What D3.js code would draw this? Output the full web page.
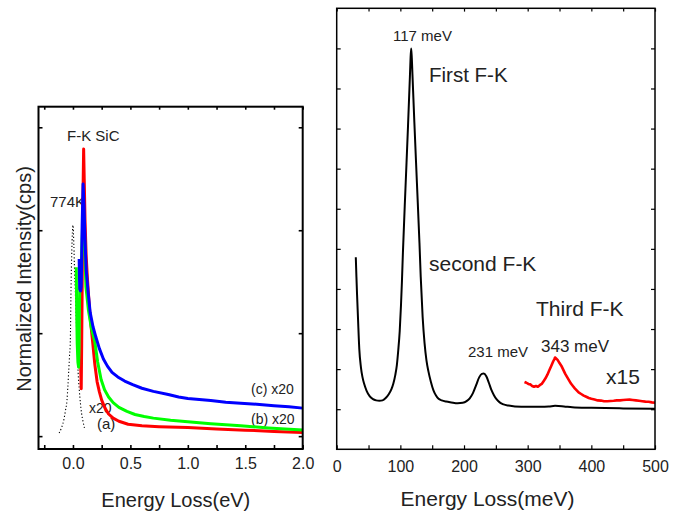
<!DOCTYPE html>
<html>
<head>
<meta charset="utf-8">
<script src="https://cdn.jsdelivr.net/npm/d3@7"></script>
<style>
  body { margin: 0; background: #fff; }
  svg { display: block; }
  text { font-family: "Liberation Sans", Arial, Helvetica, sans-serif; fill: #222; }
</style>
</head>
<body>
<svg id="chart" width="685" height="511"></svg>
<script>
// ---------- Left panel: F-K spectra of SiC (energy loss in eV) ----------
const leftXMajor = [0.0, 0.5, 1.0, 1.5, 2.0];
const leftXMinor = [-0.25, 0.25, 0.75, 1.25, 1.75];
const leftYTicks = [0, 1, 2, 3];

// elastic peak at 774K (dotted)
const elastic774K = [
  [-0.12, 0.03], [-0.1, 0.08], [-0.08, 0.155], [-0.065, 0.25], [-0.052, 0.35], [-0.045, 0.47],
  [-0.038, 0.61], [-0.03, 0.78], [-0.023, 0.93], [-0.017, 1.42], [-0.01, 1.8], [0.0, 2.05],
  [0.008, 1.85], [0.014, 1.6], [0.02, 1.42], [0.028, 1.15], [0.035, 0.93], [0.045, 0.62],
  [0.055, 0.45], [0.065, 0.32], [0.075, 0.22], [0.088, 0.14], [0.1, 0.08]
];
// (a) x20
const curveA = [
  [0.066, 0.75], [0.069, 0.6], [0.072, 0.46], [0.076, 0.9], [0.082, 1.7], [0.088, 2.4],
  [0.093, 2.79], [0.098, 2.5], [0.105, 2.1], [0.115, 1.75], [0.125, 1.55], [0.135, 1.38],
  [0.15, 1.15], [0.17, 0.93], [0.19, 0.7], [0.21, 0.53], [0.23, 0.43], [0.25, 0.35],
  [0.28, 0.27], [0.31, 0.215], [0.35, 0.175], [0.4, 0.145], [0.48, 0.115], [0.6, 0.1],
  [0.75, 0.092], [1.0, 0.083], [1.25, 0.07], [1.5, 0.058], [1.75, 0.046], [2.0, 0.035]
];
// (b) x20
const curveB = [
  [0.029, 1.64], [0.032, 1.25], [0.037, 0.9], [0.043, 0.72], [0.049, 0.67], [0.053, 0.85],
  [0.056, 1.2], [0.059, 1.45], [0.068, 1.5], [0.078, 1.85], [0.088, 2.18], [0.094, 2.12],
  [0.1, 1.98], [0.106, 1.7], [0.113, 1.45], [0.135, 1.22], [0.16, 1.05], [0.19, 0.92],
  [0.215, 0.72], [0.245, 0.55], [0.275, 0.45], [0.31, 0.38], [0.35, 0.325], [0.4, 0.28],
  [0.47, 0.24], [0.54, 0.21], [0.62, 0.19], [0.7, 0.175], [0.85, 0.155], [1.0, 0.14],
  [1.2, 0.12], [1.46, 0.1], [1.7, 0.08], [2.0, 0.06]
];
// (c) x20
const curveC = [
  [0.054, 1.72], [0.057, 1.52], [0.059, 1.43], [0.066, 1.41], [0.072, 1.45], [0.08, 2.05],
  [0.088, 2.45], [0.096, 2.25], [0.105, 1.9], [0.115, 1.62], [0.13, 1.42], [0.15, 1.2],
  [0.175, 1.06], [0.2, 0.96], [0.23, 0.85], [0.265, 0.75], [0.3, 0.68], [0.34, 0.62],
  [0.39, 0.575], [0.45, 0.535], [0.52, 0.5], [0.6, 0.465], [0.7, 0.435], [0.83, 0.405],
  [0.92, 0.38], [1.0, 0.365], [1.1, 0.355], [1.2, 0.345], [1.33, 0.33], [1.46, 0.32],
  [1.6, 0.31], [1.75, 0.295], [1.88, 0.285], [2.0, 0.272]
];

// ---------- Right panel: F-K series (energy loss in meV) ----------
const rightXMajor = [0, 100, 200, 300, 400, 500];
const rightXMinor = [50, 150, 250, 350, 450];
const rightYTicks = [0, 1, 2, 3, 4, 5, 6, 7, 8, 9];

const fkSpectrum = [
  [30, 3.79], [31, 3.3], [32, 2.85], [33.5, 2.25], [35.5, 1.5], [38, 1.05], [40.5, 0.8],
  [43, 0.64], [47, 0.46], [52, 0.32], [57, 0.25], [62, 0.22], [67, 0.21], [72, 0.22],
  [77, 0.28], [82, 0.38], [86, 0.5], [89, 0.64], [92, 0.85], [94.5, 1.1], [96.7, 1.47],
  [99, 1.95], [101, 2.6], [102.5, 3.2], [104, 3.9], [108, 5.5], [112, 7.05], [115, 8.3],
  [116, 8.75], [117, 9.0], [118, 8.75], [119, 8.35], [122, 7.15], [126, 5.65], [130, 4.15],
  [132, 3.3], [135, 2.3], [138, 1.65], [141, 1.22], [144, 0.95], [148, 0.68], [152, 0.47],
  [156, 0.34], [160, 0.26], [165, 0.22], [172, 0.19], [180, 0.17], [190, 0.15], [198, 0.16],
  [204, 0.2], [209, 0.27], [214, 0.4], [219, 0.6], [224, 0.8], [228, 0.88], [231, 0.89],
  [235, 0.82], [239, 0.66], [243, 0.48], [247, 0.35], [251, 0.25], [256, 0.17], [262, 0.12],
  [270, 0.09], [280, 0.07], [300, 0.06], [320, 0.06], [333, 0.065], [343, 0.085], [357, 0.07],
  [370, 0.05], [400, 0.035], [450, 0.02], [500, 0.01]
];
// third-order region magnified x15
const fkThirdX15 = [
  [295, 0.68], [298, 0.66], [301, 0.63], [304, 0.62], [307, 0.58], [310, 0.56], [313, 0.58],
  [316, 0.56], [319, 0.6], [322, 0.63], [325, 0.7], [328, 0.77], [331, 0.86], [334, 0.97],
  [337, 1.08], [340, 1.19], [342, 1.25], [343, 1.29], [345, 1.26], [347, 1.23], [350, 1.15],
  [353, 1.08], [356, 0.98], [359, 0.88], [362, 0.8], [365, 0.72], [368, 0.64], [371, 0.58],
  [374, 0.52], [377, 0.47], [380, 0.42], [384, 0.38], [388, 0.34], [392, 0.31], [396, 0.28],
  [400, 0.26], [405, 0.24], [410, 0.22], [415, 0.215], [420, 0.2], [425, 0.2], [430, 0.205],
  [435, 0.21], [440, 0.22], [445, 0.22], [450, 0.23], [455, 0.235], [460, 0.24], [465, 0.23],
  [470, 0.22], [475, 0.21], [480, 0.2], [485, 0.19], [490, 0.185], [495, 0.17], [500, 0.16]
];

const svg = d3.select("#chart");

// ---------- scales ----------
const xL = d3.scaleLinear().domain([-0.3, 2.0]).range([38.5, 302.7]);
const yL = d3.scaleLinear().domain([-0.125, 3.2]).range([449, 106.7]);
const xR = d3.scaleLinear().domain([0, 500]).range([336.7, 655]);
const yR = d3.scaleLinear().domain([-1, 10]).range([449.3, 8.3]);

function styleAxis(g, fontSize, strokeW) {
  g.select(".domain").remove();
  g.selectAll("line").attr("stroke", "#000").attr("stroke-width", strokeW);
  g.selectAll("text").attr("font-size", fontSize)
    .attr("font-family", '"Liberation Sans", Arial, Helvetica, sans-serif')
    .attr("fill", "#222");
}

function drawAxes(x, y, opts) {
  const [x0, x1] = x.range();
  const [yb, yt] = y.range();
  // bottom: labelled majors + minors
  svg.append("g").attr("transform", `translate(0,${yb})`)
    .call(d3.axisBottom(x).tickValues(opts.xMajor).tickSizeInner(-opts.tick).tickSizeOuter(0)
      .tickPadding(opts.pad).tickFormat(opts.fmt))
    .call(g => styleAxis(g, opts.fs, opts.sw));
  svg.append("g").attr("transform", `translate(0,${yb})`)
    .call(d3.axisBottom(x).tickValues(opts.xMinor).tickSizeInner(-opts.tick).tickSizeOuter(0).tickFormat(""))
    .call(g => styleAxis(g, opts.fs, opts.sw));
  // top mirror
  svg.append("g").attr("transform", `translate(0,${yt})`)
    .call(d3.axisTop(x).tickValues(opts.xMajor.concat(opts.xMinor)).tickSizeInner(-opts.tickTop).tickSizeOuter(0).tickFormat(""))
    .call(g => styleAxis(g, opts.fs, opts.sw));
  // left and right, unlabelled
  svg.append("g").attr("transform", `translate(${x0},0)`)
    .call(d3.axisLeft(y).tickValues(opts.yTicks).tickSizeInner(-opts.tick).tickSizeOuter(0).tickFormat(""))
    .call(g => styleAxis(g, opts.fs, opts.sw));
  svg.append("g").attr("transform", `translate(${x1},0)`)
    .call(d3.axisRight(y).tickValues(opts.yTicks).tickSizeInner(-opts.tick).tickSizeOuter(0).tickFormat(""))
    .call(g => styleAxis(g, opts.fs, opts.sw));
}

function frame(x, y, sw) {
  const [x0, x1] = x.range();
  const [yb, yt] = y.range();
  svg.append("rect").attr("x", x0).attr("y", yt).attr("width", x1 - x0).attr("height", yb - yt)
    .attr("fill", "none").attr("stroke", "#000").attr("stroke-width", sw);
}

function label(txt, x, y, size, anchor) {
  svg.append("text").attr("x", x).attr("y", y).attr("font-size", size)
    .attr("text-anchor", anchor || "start").text(txt);
}

// ---------- left panel ----------
drawAxes(xL, yL, {
  xMajor: leftXMajor, xMinor: leftXMinor, yTicks: leftYTicks,
  tick: 4, tickTop: 3, pad: 8.6, fs: 16, sw: 1.6, fmt: d3.format(".1f")
});

label("F-K SiC", 67, 140.7, 15);
label("774K", 50, 206.7, 15);
label("(c) x20", 251, 394, 14);
label("(b) x20", 251, 424, 14);
label("x20", 89, 412.7, 14);
label("(a)", 97, 428.5, 15);

const lineL = d3.line().x(d => xL(d[0])).y(d => yL(d[1]));
svg.append("path").datum(elastic774K).attr("d", lineL.curve(d3.curveMonotoneX))
  .attr("fill", "none").attr("stroke", "#000").attr("stroke-width", 1.1).attr("stroke-dasharray", "1.2,2.2");
// drawing order: (a) red, (b) green, (c) blue on top
svg.append("path").datum(curveA).attr("d", lineL.curve(d3.curveLinear))
  .attr("fill", "none").attr("stroke", "#ff0000").attr("stroke-width", 3).attr("stroke-linejoin", "round");
svg.append("path").datum(curveB).attr("d", lineL.curve(d3.curveLinear))
  .attr("fill", "none").attr("stroke", "#00ff00").attr("stroke-width", 3).attr("stroke-linejoin", "round");
svg.append("path").datum(curveC).attr("d", lineL.curve(d3.curveLinear))
  .attr("fill", "none").attr("stroke", "#0000ff").attr("stroke-width", 3).attr("stroke-linejoin", "round");

frame(xL, yL, 2);

svg.append("text").attr("x", 175.8).attr("y", 506.7).attr("font-size", 20)
  .attr("text-anchor", "middle").text("Energy Loss(eV)");
svg.append("text").attr("transform", "translate(30.5,279) rotate(-90)")
  .attr("font-size", 20).attr("text-anchor", "middle").text("Normalized Intensity(cps)");

// ---------- right panel ----------
drawAxes(xR, yR, {
  xMajor: rightXMajor, xMinor: rightXMinor, yTicks: rightYTicks,
  tick: 4, tickTop: 3.3, pad: 11, fs: 16, sw: 1.2, fmt: d3.format("d")
});

const lineR = d3.line().x(d => xR(d[0])).y(d => yR(d[1]));
svg.append("path").datum(fkSpectrum).attr("d", lineR.curve(d3.curveMonotoneX))
  .attr("fill", "none").attr("stroke", "#000").attr("stroke-width", 2).attr("stroke-linejoin", "round");
svg.append("path").datum(fkThirdX15).attr("d", lineR.curve(d3.curveLinear))
  .attr("fill", "none").attr("stroke", "#ff0000").attr("stroke-width", 2.6).attr("stroke-linejoin", "round");

frame(xR, yR, 1.5);

label("117 meV", 393, 40.7, 15);
label("First F-K", 429, 81.7, 20.5);
label("second F-K", 429, 270.7, 21);
label("Third F-K", 536, 316, 21);
label("231 meV", 468, 357, 15);
label("343 meV", 541, 351.7, 17);
label("x15", 606, 384, 21);

svg.append("text").attr("x", 487.5).attr("y", 506).attr("font-size", 21)
  .attr("text-anchor", "middle").text("Energy Loss(meV)");
</script>
</body>
</html>
